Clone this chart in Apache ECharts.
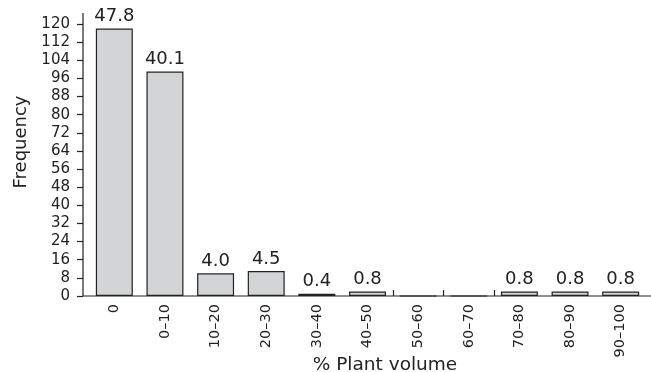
<!DOCTYPE html>
<html lang="en">
<head>
    <meta charset="UTF-8">
    <title>Plant volume</title>
    <script src="https://cdn.jsdelivr.net/npm/echarts@6/dist/echarts.min.js"></script>
</head>
<body style="margin:0">
    <div id="ec" style="width:651px;height:372px"></div>
</body>
<script>
    // data
    var categories = ['0', '0–10', '10–20', '20–30', '30–40', '40–50', '50–60', '60–70', '70–80', '80–90', '90–100']
    var frequency = [118, 99, 10, 11, 1, 2, 0, 0, 2, 2, 2]
    var percent = ['47.8', '40.1', '4.0', '4.5', '0.4', '0.8', '', '', '0.8', '0.8', '0.8']
    var yMax = 120
    var yStep = 8

    // class boundaries (one more than categories), used for the small ticks around empty classes
    var edges = []
    for (var i = 0; i <= categories.length; i++) edges.push('b' + i)
    function emptyEdge(i) {
        return frequency[i] === 0 || frequency[i - 1] === 0
    }

    var ink = '#222'
    var font = 'DejaVu Sans'

    var mychart = echarts.init(document.getElementById('ec'))
    var options = {
        animation: false,
        grid: {left: 89, right: 5, top: 24, bottom: 76, containLabel: false, outerBoundsMode: 'none'},
        xAxis: [{
            type: 'category',
            data: categories,
            name: '% Plant volume',
            nameLocation: 'middle',
            nameGap: 60,
            nameMoveOverlap: false,
            nameTextStyle: {fontFamily: font, fontSize: 18.5, color: ink, padding: [0, 0, 0, 35]},
            axisLine: {show: false},
            axisTick: {show: false},
            axisLabel: {rotate: 90, margin: 8, fontFamily: font, fontSize: 14.5, color: ink}
        }, {
            type: 'category',
            data: edges,
            boundaryGap: false,
            position: 'bottom',
            axisLine: {show: false},
            axisLabel: {show: false},
            axisTick: {
                show: true,
                inside: true,
                length: 6,
                interval: function (i) { return emptyEdge(i) },
                lineStyle: {color: ink, width: 1.2}
            }
        }],
        yAxis: {
            type: 'value',
            min: 0,
            max: yMax,
            interval: yStep,
            offset: 6,
            name: 'Frequency',
            nameLocation: 'middle',
            nameGap: 52,
            nameTextStyle: {fontFamily: font, fontSize: 18, color: ink, padding: [0, 0, 0, 36]},
            splitLine: {show: false},
            axisLine: {show: false},
            axisTick: {show: true, length: 6, lineStyle: {color: ink, width: 1.2}},
            axisLabel: {margin: 13, fontFamily: font, fontSize: 15, color: ink}
        },
        graphic: [{
            type: 'polyline',
            shape: {points: [[83, 13], [83, 296], [651, 296]]},
            style: {stroke: ink, lineWidth: 1.2, fill: null},
            z: 10
        }],
        series: [{
            type: 'bar',
            data: frequency,
            barCategoryGap: '27%',
            itemStyle: {color: '#d3d4d6', borderColor: ink, borderWidth: 1.2},
            label: {
                show: true,
                position: 'top',
                distance: 3,
                fontFamily: font,
                fontSize: 18,
                color: ink,
                formatter: function (p) { return percent[p.dataIndex] }
            }
        }]
    }
    mychart.setOption(options)
</script>
</html>
